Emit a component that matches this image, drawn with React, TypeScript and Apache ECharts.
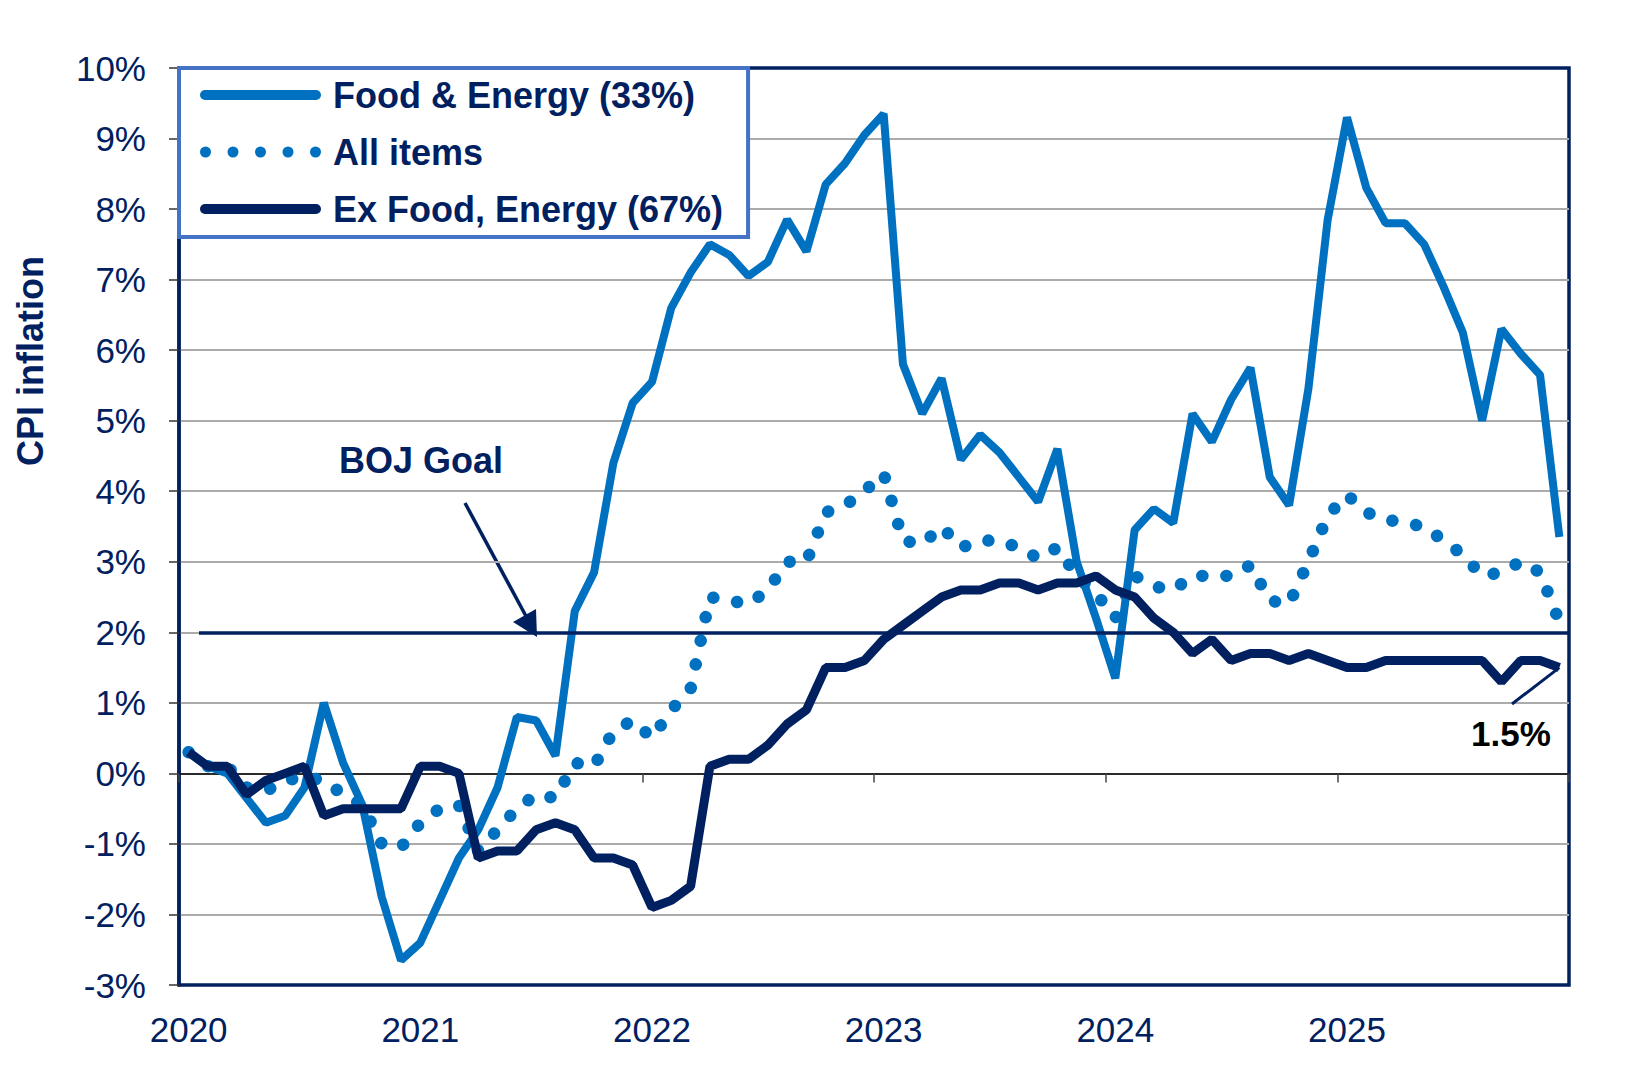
import React, { useEffect, useRef } from "react";
import * as echarts from "echarts";

const YEARS = ["2020", "2021", "2022", "2023", "2024", "2025"];
const MONTHS = ["01", "02", "03", "04", "05", "06", "07", "08", "09", "10", "11", "12"];
const CATEGORIES = YEARS.flatMap((y) => MONTHS.map((m) => `${y}-${m}`));

const FOOD_ENERGY = [
  0.3, 0.1, 0.0, -0.35, -0.7, -0.6, -0.2, 1.0, 0.15, -0.45, -1.75, -2.65,
  -2.4, -1.8, -1.2, -0.8, -0.2, 0.8, 0.75, 0.25, 2.3, 2.85, 4.4, 5.25,
  5.55, 6.6, 7.1, 7.5, 7.35, 7.05, 7.25, 7.85, 7.4, 8.35, 8.65, 9.05,
  9.35, 5.8, 5.1, 5.6, 4.45, 4.8, 4.55, 4.2, 3.85, 4.6, 3.0, 2.2,
  1.35, 3.45, 3.75, 3.55, 5.1, 4.7, 5.3, 5.75, 4.2, 3.8, 5.45, 7.85,
  9.3, 8.3, 7.8, 7.8, 7.5, 6.9, 6.25, 5.0, 6.3, 5.95, 5.65, 3.35,
];

const ALL_ITEMS = [
  0.3, 0.1, 0.1, -0.2, -0.25, -0.1, -0.05, -0.1, -0.3, -0.45, -1.0, -1.05,
  -0.7, -0.5, -0.45, -1.1, -0.8, -0.5, -0.3, -0.35, 0.15, 0.1, 0.6, 0.75,
  0.5, 0.9, 1.2, 2.5, 2.45, 2.4, 2.6, 3.0, 3.0, 3.7, 3.8, 4.0,
  4.25, 3.3, 3.25, 3.5, 3.2, 3.3, 3.3, 3.2, 3.05, 3.2, 2.8, 2.55,
  2.2, 2.8, 2.65, 2.6, 2.8, 2.8, 2.8, 2.95, 2.45, 2.4, 3.0, 3.65,
  3.95, 3.7, 3.6, 3.55, 3.5, 3.3, 3.1, 2.8, 2.85, 3.0, 2.85, 2.15,
];

const EX_FOOD_ENERGY = [
  0.3, 0.1, 0.1, -0.3, -0.1, 0.0, 0.1, -0.6, -0.5, -0.5, -0.5, -0.5,
  0.1, 0.1, 0.0, -1.2, -1.1, -1.1, -0.8, -0.7, -0.8, -1.2, -1.2, -1.3,
  -1.9, -1.8, -1.6, 0.1, 0.2, 0.2, 0.4, 0.7, 0.9, 1.5, 1.5, 1.6,
  1.9, 2.1, 2.3, 2.5, 2.6, 2.6, 2.7, 2.7, 2.6, 2.7, 2.7, 2.8,
  2.6, 2.5, 2.2, 2.0, 1.7, 1.9, 1.6, 1.7, 1.7, 1.6, 1.7, 1.6,
  1.5, 1.5, 1.6, 1.6, 1.6, 1.6, 1.6, 1.6, 1.3, 1.6, 1.6, 1.5,
];

const SERIES_NAMES = ["Food & Energy (33%)", "All items", "Ex Food, Energy (67%)"];
const Y_MIN = -3;
const Y_MAX = 10;
const Y_STEP = 1;
const BOJ_GOAL = 2;
const LAST_VALUE_LABEL = "1.5%";

const NAVY = "#002060";
const BLUE = "#0070C0";
const FONT = "'Liberation Sans', Arial, Helvetica, sans-serif";

const lineIcon = "path://M5,0 H116 A5,5 0 0 1 116,10 H5 A5,5 0 0 1 5,0 Z";
const dotCenters = [5.5, 33, 60.5, 88, 115.5];
const dotsIcon =
  "path://" +
  dotCenters
    .map((c) => `M${c - 5.5},5.5 A5.5,5.5 0 1 0 ${c + 5.5},5.5 A5.5,5.5 0 1 0 ${c - 5.5},5.5 Z`)
    .join(" ");

export default function App() {
  const ref = useRef<HTMLDivElement>(null);

  useEffect(() => {
    if (!ref.current) return;
    const chart = echarts.init(ref.current, null, { renderer: "svg" });
    const lastCat = CATEGORIES[CATEGORIES.length - 1];
    const lastEx = EX_FOOD_ENERGY[EX_FOOD_ENERGY.length - 1];

    chart.setOption({
      animation: false,
      backgroundColor: "#ffffff",
      textStyle: { fontFamily: FONT },
      grid: {
        left: 179,
        top: 68,
        width: 1390,
        height: 917,
        show: true,
        borderColor: NAVY,
        borderWidth: 3.5,
        backgroundColor: "transparent",
      },
      legend: {
        orient: "vertical",
        left: 179,
        top: 68,
        itemWidth: 121,
        itemHeight: 11,
        itemGap: 21,
        padding: [9, 25, 10, 21],
        backgroundColor: "#ffffff",
        borderColor: "#4472C4",
        borderWidth: 4,
        borderRadius: 0,
        selectedMode: false,
        itemStyle: { borderWidth: 0 },
        textStyle: {
          fontSize: 36,
          fontWeight: "bold",
          color: NAVY,
          fontFamily: FONT,
          padding: [0, 0, 0, 7],
        },
        data: [
          { name: SERIES_NAMES[0], icon: lineIcon },
          { name: SERIES_NAMES[1], icon: dotsIcon },
          { name: SERIES_NAMES[2], icon: lineIcon },
        ],
      },
      xAxis: [
        {
          type: "category",
          data: CATEGORIES,
          boundaryGap: true,
          position: "bottom",
          axisLine: { show: true, onZero: true, lineStyle: { color: "#000000", width: 1.5 } },
          axisTick: { show: true, interval: 11, length: 9, lineStyle: { color: "#444444", width: 1.5 } },
          axisLabel: { show: false },
          splitLine: { show: false },
        },
        {
          type: "category",
          data: CATEGORIES,
          boundaryGap: true,
          position: "bottom",
          axisLine: { show: false, onZero: false },
          axisTick: { show: false },
          splitLine: { show: false },
          axisLabel: {
            interval: 11,
            formatter: (v: string) => v.slice(0, 4),
            fontSize: 35,
            color: NAVY,
            fontFamily: FONT,
            margin: 27,
          },
        },
      ],
      yAxis: {
        type: "value",
        min: Y_MIN,
        max: Y_MAX,
        interval: Y_STEP,
        axisLine: { show: true, lineStyle: { color: NAVY, width: 3.5 } },
        axisTick: { show: true, length: 10, lineStyle: { color: "#333333", width: 1.5 } },
        axisLabel: {
          formatter: "{value}%",
          fontSize: 35,
          color: NAVY,
          fontFamily: FONT,
          margin: 33,
        },
        splitLine: {
          show: true,
          showMinLine: false,
          showMaxLine: false,
          lineStyle: { color: "#ABABAB", width: 2 },
        },
      },
      series: [
        {
          name: SERIES_NAMES[0],
          type: "line",
          data: FOOD_ENERGY,
          symbol: "none",
          color: BLUE,
          lineStyle: { color: BLUE, width: 8 },
          markLine: {
            silent: true,
            symbol: ["none", "none"],
            label: { show: false },
            lineStyle: { color: NAVY, width: 3.5, type: "solid" },
            data: [[{ x: 199, yAxis: BOJ_GOAL }, { x: 1569, yAxis: BOJ_GOAL }]],
          },
        },
        {
          name: SERIES_NAMES[1],
          type: "line",
          data: ALL_ITEMS,
          symbol: "none",
          color: BLUE,
          lineStyle: { color: BLUE, width: 12.5, type: [0.1, 24], cap: "round" },
        },
        {
          name: SERIES_NAMES[2],
          type: "line",
          data: EX_FOOD_ENERGY,
          symbol: "none",
          color: NAVY,
          lineStyle: { color: NAVY, width: 9 },
          markLine: {
            silent: true,
            symbol: ["none", "none"],
            label: { show: false },
            lineStyle: { color: NAVY, width: 3, type: "solid" },
            data: [[{ x: 1512, y: 704 }, { coord: [lastCat, lastEx] }]],
          },
        },
      ],
      graphic: [
        {
          type: "text",
          x: 30,
          y: 361,
          rotation: Math.PI / 2,
          style: {
            text: "CPI inflation",
            fontSize: 36,
            fontWeight: "bold",
            fontFamily: FONT,
            fill: NAVY,
            align: "center",
            verticalAlign: "middle",
            textAlign: "center",
            textVerticalAlign: "middle",
          },
        },
        {
          type: "text",
          x: 339,
          y: 460,
          style: {
            text: "BOJ Goal",
            fontSize: 36,
            fontWeight: "bold",
            fontFamily: FONT,
            fill: NAVY,
            align: "left",
            verticalAlign: "middle",
            textAlign: "left",
            textVerticalAlign: "middle",
          },
        },
        {
          type: "line",
          shape: { x1: 465, y1: 503, x2: 527, y2: 618 },
          style: { stroke: NAVY, lineWidth: 3.5 },
        },
        {
          type: "polygon",
          shape: { points: [[537, 637], [513, 622], [536, 609]] },
          style: { fill: NAVY },
        },
        {
          type: "text",
          x: 1511,
          y: 733,
          style: {
            text: LAST_VALUE_LABEL,
            fontSize: 35,
            fontWeight: "bold",
            fontFamily: FONT,
            fill: "#000000",
            align: "center",
            verticalAlign: "middle",
            textAlign: "center",
            textVerticalAlign: "middle",
          },
        },
      ],
    });

    return () => chart.dispose();
  }, []);

  return (
    <div
      ref={ref}
      style={{ position: "fixed", left: 0, top: 0, width: 1627, height: 1080, background: "#ffffff" }}
    />
  );
}
